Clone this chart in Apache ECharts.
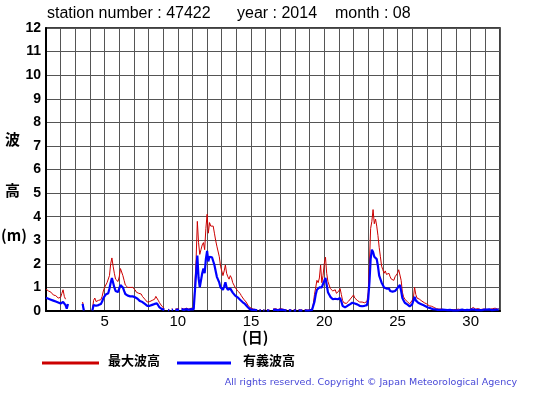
<!DOCTYPE html>
<html><head><meta charset="utf-8">
<script src="https://cdn.jsdelivr.net/npm/echarts@6/dist/echarts.min.js"></script>
<style>html,body{margin:0;padding:0;background:#fff}#c{width:555px;height:395px}</style>
</head><body><div id="c"></div>
<script>
// 2-hourly samples, 12 per day, day 1 .. day 31
var maxWave = [
 0.93,0.88,0.85,0.78,0.80,0.72,0.68,0.62,0.65,0.58,0.55,0.60,
 0.58,0.75,0.90,0.62,0.50,null,0.45,null,null,0.40,null,null,
 null,null,null,null,null,null,0.38,0.05,null,null,null,null,
 null,null,0.05,0.45,0.55,0.40,0.35,0.45,0.50,0.48,0.62,0.85,
 1.00,1.10,1.20,1.15,1.50,2.00,2.25,1.90,1.60,1.35,1.30,1.25,
 1.45,1.80,1.88,1.50,1.30,1.10,1.15,1.00,1.05,1.00,0.95,1.00,
 0.95,0.90,0.80,0.85,0.75,0.70,0.72,0.62,0.55,0.50,0.45,0.38,
 0.35,0.40,0.48,0.45,0.40,0.50,0.62,0.55,0.45,0.35,0.30,0.20,
 0.15,0.10,null,null,0.08,0.05,null,0.10,0.06,null,0.08,0.05,
 0.10,0.08,null,0.12,0.10,0.08,0.10,0.12,0.10,0.08,0.10,0.12,
 0.12,0.10,0.15,2.20,3.80,2.90,2.40,2.60,2.80,2.90,2.60,3.50,
 4.10,3.30,3.75,3.60,3.65,3.60,3.30,3.00,2.75,2.70,2.30,1.90,
 1.70,1.50,1.70,1.95,1.60,1.45,1.35,1.50,1.40,1.20,1.10,1.00,
 0.92,0.85,0.88,0.75,0.65,0.60,0.50,0.45,0.38,0.30,0.20,0.15,
 0.12,0.10,0.08,0.10,0.06,0.05,null,0.06,0.05,null,0.04,0.05,
 null,0.05,0.06,0.04,null,null,0.08,0.06,0.10,0.08,0.06,0.05,
 0.10,0.12,0.08,0.06,0.05,0.06,null,0.05,0.04,0.05,null,0.06,
 0.05,0.04,null,0.06,0.05,0.04,0.05,null,0.06,0.05,0.04,0.05,
 0.05,0.05,0.08,0.30,0.70,1.00,1.30,1.20,1.40,1.95,1.20,1.50,
 2.00,2.28,1.60,1.25,1.10,0.95,0.90,0.85,0.80,0.90,0.75,0.80,
 0.85,0.95,0.70,0.45,0.35,0.30,0.32,0.38,0.42,0.45,0.55,0.60,
 0.68,0.55,0.50,0.45,0.40,0.38,0.35,0.38,0.32,0.35,0.30,0.40,
 0.80,2.00,3.50,3.80,4.30,3.70,3.90,3.60,3.20,2.70,2.30,1.90,
 1.75,1.60,1.70,1.55,1.50,1.60,1.45,1.35,1.40,1.30,1.45,1.50,
 1.60,1.75,1.80,1.30,0.80,0.60,0.50,0.45,0.40,0.35,0.30,0.35,
 0.45,0.55,1.00,0.70,0.55,0.60,0.50,0.45,0.42,0.38,0.35,0.30,
 0.30,0.25,0.22,0.20,0.20,0.15,0.15,0.12,0.10,0.10,0.08,0.08,
 0.08,0.10,0.06,0.08,0.05,0.06,0.05,0.08,0.06,0.05,0.06,0.05,
 0.06,0.05,0.08,0.06,0.05,0.10,0.06,0.05,0.06,0.08,0.05,0.06,
 0.08,0.12,0.15,0.10,0.08,0.06,0.10,0.08,0.06,0.05,0.08,0.10,
 0.08,0.10,0.06,0.12,0.08,0.06,0.10,0.08,0.12,0.10,0.08,0.10
];
var sigWave = [
 0.56,0.55,0.52,0.50,0.48,0.46,0.44,0.42,0.40,0.38,0.36,0.34,
 0.32,0.35,0.38,0.30,0.25,0.10,0.30,null,null,0.30,null,null,
 null,null,null,null,null,null,0.30,0.02,null,null,null,null,
 null,null,0.02,0.25,0.30,0.22,0.20,0.25,0.28,0.30,0.40,0.55,
 0.62,0.70,0.78,0.75,0.95,1.20,1.40,1.20,1.00,0.85,0.82,0.80,
 0.95,1.10,1.18,1.00,0.85,0.72,0.75,0.65,0.68,0.62,0.60,0.62,
 0.60,0.58,0.50,0.52,0.45,0.42,0.44,0.38,0.33,0.30,0.28,0.22,
 0.20,0.22,0.28,0.26,0.22,0.30,0.35,0.32,0.25,0.15,0.12,0.08,
 0.08,0.05,null,null,0.04,0.03,null,0.06,0.04,null,0.05,0.03,
 0.06,0.05,null,0.08,0.07,0.05,0.06,0.08,0.06,0.05,0.07,0.08,
 0.08,0.07,0.10,1.60,2.35,1.40,1.00,1.30,1.60,1.80,1.60,2.20,
 2.55,2.10,2.30,2.25,2.28,2.20,1.95,1.70,1.45,1.50,1.20,1.00,
 0.95,0.90,1.05,1.22,1.00,0.90,0.85,0.95,0.88,0.78,0.70,0.65,
 0.62,0.58,0.55,0.48,0.42,0.38,0.33,0.30,0.25,0.18,0.12,0.08,
 0.06,0.05,0.04,0.05,0.03,0.03,null,0.03,0.03,null,0.02,0.03,
 null,0.03,0.03,0.02,null,null,0.05,0.03,0.06,0.05,0.03,0.03,
 0.06,0.07,0.05,0.03,0.03,0.03,null,0.03,0.02,0.03,null,0.03,
 0.03,0.02,null,0.03,0.03,0.02,0.03,null,0.03,0.03,0.02,0.03,
 0.03,0.03,0.05,0.10,0.40,0.70,0.90,0.95,1.00,1.05,1.00,1.15,
 1.20,1.40,1.10,0.80,0.70,0.60,0.55,0.50,0.48,0.52,0.45,0.50,
 0.50,0.55,0.40,0.22,0.18,0.15,0.18,0.22,0.25,0.28,0.32,0.35,
 0.38,0.32,0.30,0.28,0.25,0.22,0.22,0.20,0.20,0.22,0.18,0.25,
 0.50,1.20,2.20,2.60,2.50,2.30,2.35,2.20,1.90,1.50,1.35,1.20,
 1.10,1.00,1.05,0.95,0.90,0.95,0.85,0.80,0.82,0.78,0.85,0.90,
 0.97,1.05,1.10,0.85,0.55,0.45,0.35,0.30,0.28,0.22,0.20,0.22,
 0.28,0.35,0.60,0.45,0.38,0.35,0.32,0.30,0.28,0.25,0.22,0.20,
 0.18,0.15,0.14,0.12,0.10,0.08,0.08,0.07,0.06,0.05,0.05,0.05,
 0.05,0.06,0.04,0.05,0.03,0.04,0.03,0.05,0.04,0.03,0.04,0.03,
 0.04,0.03,0.05,0.04,0.03,0.06,0.04,0.03,0.04,0.05,0.03,0.04,
 0.05,0.07,0.10,0.06,0.05,0.04,0.06,0.05,0.04,0.03,0.05,0.06,
 0.05,0.06,0.04,0.07,0.05,0.04,0.06,0.05,0.07,0.06,0.05,0.06
];
var samplesPerDay = 12;
var xLabels = [5, 10, 15, 20, 25, 30];
var titleParts = ['station number : 47422', 'year : 2014', 'month : 08'];
var legendNames = ['最大波高', '有義波高'];
var yTitle = ['波', '高', '(m)'];
var xTitle = '(日)';
var copyright = 'All rights reserved. Copyright © Japan Meteorological Agency';

function toPairs(arr){
  return arr.map(function(v,i){ return [1 + i/samplesPerDay, v]; });
}
var chart = echarts.init(document.getElementById('c'), null, {renderer:'canvas'});
var font = 'Liberation Sans, Arial, sans-serif';
chart.setOption({
  animation:false,
  backgroundColor:'#fff',
  grid:{left:46, top:28, width:454, height:283, show:true, borderColor:'#000', borderWidth:1.5},
  xAxis:{type:'value', min:1, max:32, interval:1,
    axisLine:{show:true, lineStyle:{color:'#000', width:2}},
    axisTick:{show:false},
    splitLine:{show:true, lineStyle:{color:'#555', width:1}},
    axisLabel:{fontSize:15, color:'#000', fontFamily:font, margin:3,
      formatter:function(v){ return xLabels.indexOf(v) >= 0 ? String(v) : ''; }}
  },
  yAxis:{type:'value', min:0, max:12, interval:1,
    axisLine:{show:true, lineStyle:{color:'#000', width:2}},
    axisTick:{show:false},
    splitLine:{show:true, lineStyle:{color:'#555', width:1}},
    axisLabel:{fontSize:14, fontWeight:'bold', color:'#000', fontFamily:font, margin:5}
  },
  series:[
    {type:'line', data:toPairs(maxWave), showSymbol:false, connectNulls:false,
     lineStyle:{color:'#cc0000', width:1}, itemStyle:{color:'#cc0000'}, z:2},
    {type:'line', data:toPairs(sigWave), showSymbol:false, connectNulls:false,
     lineStyle:{color:'#0000ff', width:2.2}, itemStyle:{color:'#0000ff'}, z:3}
  ],
  graphic:[
    {type:'text', left:47, top:6, style:{text:titleParts[0], font:'16px '+font, fill:'#000'}},
    {type:'text', left:237, top:6, style:{text:titleParts[1], font:'16px '+font, fill:'#000'}},
    {type:'text', left:335, top:6, style:{text:titleParts[2], font:'16px '+font, fill:'#000'}},
    {type:'text', left:5, top:132, style:{text:yTitle[0], font:'bold 15px Noto Sans CJK JP', fill:'#000'}},
    {type:'text', left:5, top:183, style:{text:yTitle[1], font:'bold 15px Noto Sans CJK JP', fill:'#000'}},
    {type:'text', left:1, top:228, style:{text:yTitle[2], font:'bold 15px Noto Sans CJK JP', fill:'#000'}},
    {type:'text', left:242, top:330, style:{text:xTitle, font:'bold 15px Noto Sans CJK JP', fill:'#000'}},
    {type:'rect', shape:{x:42, y:361.5, width:57, height:3}, style:{fill:'#cc0000'}},
    {type:'text', left:108, top:354, style:{text:legendNames[0], font:'bold 13px Noto Sans CJK JP', fill:'#000'}},
    {type:'rect', shape:{x:177, y:361.5, width:54, height:3}, style:{fill:'#0000ff'}},
    {type:'text', left:243, top:354, style:{text:legendNames[1], font:'bold 13px Noto Sans CJK JP', fill:'#000'}},
    {type:'text', right:38, top:378, style:{text:copyright, font:'9.5px DejaVu Sans', fill:'#4848d8'}}
  ]
});
</script></body></html>
